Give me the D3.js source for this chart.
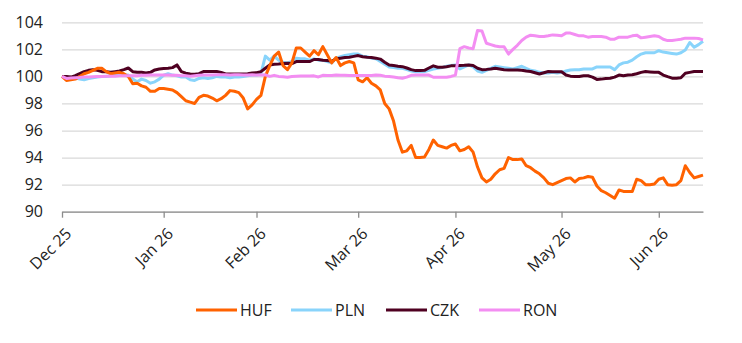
<!DOCTYPE html>
<html lang="en">
<head>
<meta charset="UTF-8">
<title>CEE FX index</title>
<script src="https://cdn.jsdelivr.net/npm/d3@7"></script>
<style>
body { margin: 0; background: #fff; font-family: 'Open Sans', 'Noto Sans', sans-serif; color: #222; }
svg text { fill: #222; }
</style>
</head>
<body>
<svg id="chart" width="742" height="343"></svg>
<script>
// month ticks, placed at the index of the first observation of each month
const tickIndex = [0, 23, 44, 67, 89, 113, 135];
const tickLabels = ["Dec 25", "Jan 26", "Feb 26", "Mar 26", "Apr 26", "May 26", "Jun 26"];
const yTicks = [90, 92, 94, 96, 98, 100, 102, 104];

const huf = [100.0, 99.7, 99.75, 99.8, 100.0, 100.2, 100.3, 100.45, 100.6, 100.6,
  100.35, 100.2, 100.25, 100.3, 100.2, 100.0, 99.45, 99.5, 99.3, 99.2,
  98.9, 98.9, 99.1, 99.1, 99.05, 99.0, 98.8, 98.5, 98.2, 98.1,
  98.0, 98.45, 98.6, 98.55, 98.4, 98.2, 98.35, 98.6, 98.95, 98.9,
  98.8, 98.4, 97.6, 97.9, 98.3, 98.6, 100.0, 100.8, 101.5, 101.8,
  100.8, 100.5, 101.0, 102.1, 102.1, 101.8, 101.5, 101.9, 101.6, 102.2,
  101.6, 101.0, 101.4, 100.8, 101.0, 101.1, 101.0, 99.75, 99.6, 99.9,
  99.5, 99.3, 99.0, 98.0, 97.6, 96.7, 95.3, 94.4, 94.5, 94.9,
  94.0, 94.0, 94.05, 94.6, 95.3, 94.9, 94.8, 94.7, 94.9, 95.0,
  94.5, 94.6, 94.8, 94.4, 93.3, 92.5, 92.2, 92.4, 92.8, 93.1,
  93.2, 94.0, 93.85, 93.85, 93.9, 93.4, 93.25, 93.0, 92.8, 92.5,
  92.1, 92.0, 92.15, 92.3, 92.45, 92.5, 92.2, 92.45, 92.5, 92.6,
  92.55, 91.9, 91.55, 91.4, 91.2, 91.0, 91.6, 91.5, 91.5, 91.5,
  92.4, 92.3, 92.0, 92.0, 92.05, 92.4, 92.5, 92.0, 91.95, 92.0,
  92.3, 93.4, 92.9, 92.5, 92.6, 92.7];

const pln = [100.0, 99.9, 99.85, 99.9, 99.8, 99.75, 99.85, 99.9, 99.95, 100.0,
  100.0, 100.05, 100.1, 100.1, 100.1, 100.1, 99.8, 99.6, 99.8, 99.7,
  99.5, 99.6, 99.8, 100.1, 100.2, 100.1, 100.05, 99.95, 99.95, 99.75,
  99.7, 99.85, 99.9, 99.85, 99.9, 100.0, 99.95, 99.95, 99.9, 99.95,
  99.95, 100.0, 100.05, 100.1, 100.1, 100.2, 101.5, 101.2, 101.5, 101.2,
  101.05, 101.0, 101.1, 101.35, 101.3, 101.3, 101.2, 101.3, 101.2, 101.2,
  101.1, 101.0, 101.35, 101.45, 101.55, 101.6, 101.65, 101.65, 101.5, 101.45,
  101.35, 101.3, 101.1, 100.9, 100.7, 100.65, 100.6, 100.6, 100.5, 100.4,
  100.35, 100.35, 100.35, 100.45, 100.55, 100.6, 100.65, 100.75, 100.8, 100.85,
  100.55, 100.7, 100.85, 100.7, 100.4, 100.3, 100.45, 100.6, 100.75, 100.7,
  100.65, 100.6, 100.55, 100.65, 100.75, 100.6, 100.45, 100.4, 100.3, 100.25,
  100.25, 100.3, 100.25, 100.3, 100.4, 100.48, 100.5, 100.5, 100.55, 100.55,
  100.55, 100.7, 100.7, 100.7, 100.7, 100.5, 100.85, 101.0, 101.05, 101.2,
  101.45, 101.65, 101.75, 101.75, 101.75, 101.9, 101.8, 101.75, 101.7, 101.65,
  101.75, 101.95, 102.5, 102.15, 102.35, 102.6];

const czk = [100.0, 100.0, 99.95, 100.05, 100.2, 100.35, 100.45, 100.5, 100.45, 100.35,
  100.35, 100.3, 100.35, 100.4, 100.5, 100.62, 100.35, 100.3, 100.3, 100.25,
  100.3, 100.48, 100.55, 100.58, 100.6, 100.65, 100.85, 100.35, 100.24, 100.18,
  100.16, 100.2, 100.36, 100.36, 100.36, 100.36, 100.3, 100.18, 100.18, 100.18,
  100.18, 100.18, 100.2, 100.25, 100.28, 100.35, 100.6, 100.85, 100.9, 100.92,
  100.95, 100.97, 100.95, 101.1, 101.1, 101.1, 101.1, 101.25, 101.25, 101.2,
  101.18, 101.12, 101.3, 101.35, 101.4, 101.42, 101.48, 101.54, 101.45, 101.42,
  101.4, 101.35, 101.28, 101.05, 100.85, 100.8, 100.75, 100.72, 100.62, 100.5,
  100.43, 100.43, 100.45, 100.62, 100.78, 100.68, 100.68, 100.72, 100.78, 100.78,
  100.8, 100.82, 100.85, 100.8, 100.6, 100.5, 100.52, 100.55, 100.6, 100.55,
  100.5, 100.48, 100.48, 100.48, 100.45, 100.4, 100.36, 100.27, 100.18, 100.27,
  100.36, 100.34, 100.34, 100.34, 100.1, 100.02, 99.99, 100.0, 100.05, 100.05,
  99.95, 99.78, 99.8, 99.84, 99.86, 99.95, 100.1, 100.05, 100.1, 100.12,
  100.2, 100.3, 100.36, 100.33, 100.3, 100.3, 100.1, 99.98, 99.87, 99.87,
  99.9, 100.24, 100.3, 100.36, 100.36, 100.36];

const ron = [100.0, 99.85, 99.88, 99.9, 99.92, 99.95, 99.95, 99.98, 100.0, 100.0,
  100.02, 100.02, 100.02, 100.05, 100.05, 100.05, 100.05, 100.05, 100.08, 100.08,
  100.1, 100.1, 100.1, 100.1, 100.1, 100.08, 100.08, 100.05, 100.05, 100.02,
  100.05, 100.08, 100.1, 100.1, 100.1, 100.12, 100.12, 100.12, 100.1, 100.12,
  100.12, 100.1, 100.1, 100.12, 100.1, 100.1, 100.12, 100.0, 100.08, 100.0,
  99.97, 99.94, 100.0, 100.02, 100.03, 100.03, 100.03, 100.04, 99.96, 100.08,
  100.06, 100.06, 100.1, 100.08, 100.08, 100.06, 100.06, 100.06, 100.06, 100.06,
  100.06, 100.1, 100.08, 100.02, 100.0, 99.95, 99.9, 99.87, 99.95, 100.08,
  100.1, 100.1, 100.1, 100.1, 99.94, 99.94, 99.94, 99.94, 100.0, 100.1,
  102.05, 102.2, 102.1, 102.05, 103.4, 103.35, 102.45, 102.35, 102.25, 102.2,
  102.2, 101.65, 102.0, 102.3, 102.65, 102.9, 103.05, 103.0, 102.95, 102.95,
  103.0, 103.07, 103.05, 103.0, 103.2, 103.2, 103.1, 103.0, 103.0, 102.9,
  102.95, 102.95, 102.95, 102.9, 102.75, 102.75, 102.9, 102.9, 102.9, 103.0,
  103.05, 102.85, 102.9, 102.95, 103.0, 102.95, 102.75, 102.65, 102.65, 102.7,
  102.75, 102.83, 102.83, 102.83, 102.8, 102.7];

const names = ["HUF", "PLN", "CZK", "RON"];
const colors = { HUF: "#ff6200", PLN: "#89d4fb", CZK: "#4f0021", RON: "#f38ef2" };
const seriesByName = { HUF: huf, PLN: pln, CZK: czk, RON: ron };
const drawOrder = ["PLN", "CZK", "HUF", "RON"];

const svg = d3.select("#chart");
const plotLeft = 62, plotRight = 703, plotTop = 22.3, plotBottom = 211.7;

const x = d3.scaleLinear().domain([0, huf.length - 1]).range([plotLeft, plotRight]);
const y = d3.scaleLinear().domain([90, 104]).range([plotBottom, plotTop]);

// gridlines + y labels
const yAxis = svg.append("g")
  .attr("transform", `translate(${plotLeft},0)`)
  .call(d3.axisLeft(y).tickValues(yTicks).tickSize(-(plotRight - plotLeft)).tickPadding(19).tickFormat(d3.format("d")));
yAxis.select(".domain").remove();
yAxis.selectAll(".tick line").attr("stroke", "#d9d9d9").attr("stroke-width", 1.2);
yAxis.selectAll(".tick text").attr("font-size", 16).attr("font-family", "'Open Sans', sans-serif");

// x axis
const xAxis = svg.append("g")
  .attr("transform", `translate(0,${plotBottom})`)
  .call(d3.axisBottom(x).tickValues(tickIndex).tickFormat((d, i) => tickLabels[i]).tickSize(6).tickSizeOuter(0));
xAxis.select(".domain").attr("stroke", "#8c8c8c").attr("stroke-width", 1.3);
xAxis.selectAll(".tick line").attr("stroke", "#8c8c8c").attr("stroke-width", 1.3);
xAxis.selectAll(".tick text")
  .attr("font-size", 16)
  .attr("font-family", "'Open Sans', sans-serif")
  .attr("text-anchor", "end")
  .attr("x", 0).attr("y", 0).attr("dy", "0.35em")
  .attr("transform", "translate(6,19) rotate(-45)");

// lines
const line = d3.line().x((d, i) => x(i)).y(d => y(d));
svg.append("g").selectAll("path")
  .data(drawOrder)
  .join("path")
  .attr("d", n => line(seriesByName[n]))
  .attr("fill", "none")
  .attr("stroke", n => colors[n])
  .attr("stroke-width", 3)
  .attr("stroke-linejoin", "round");

// legend
const legendX = [196, 291, 386, 479];
const lg = svg.append("g").selectAll("g")
  .data(names)
  .join("g")
  .attr("transform", (n, i) => `translate(${legendX[i]},310)`);
lg.append("line").attr("x1", 0).attr("x2", 41).attr("y1", 0).attr("y2", 0)
  .attr("stroke", n => colors[n]).attr("stroke-width", 3);
lg.append("text").attr("x", 44).attr("dy", "0.35em")
  .attr("font-size", 16).attr("font-family", "'Open Sans', sans-serif")
  .text(n => n);
</script>
</body>
</html>
